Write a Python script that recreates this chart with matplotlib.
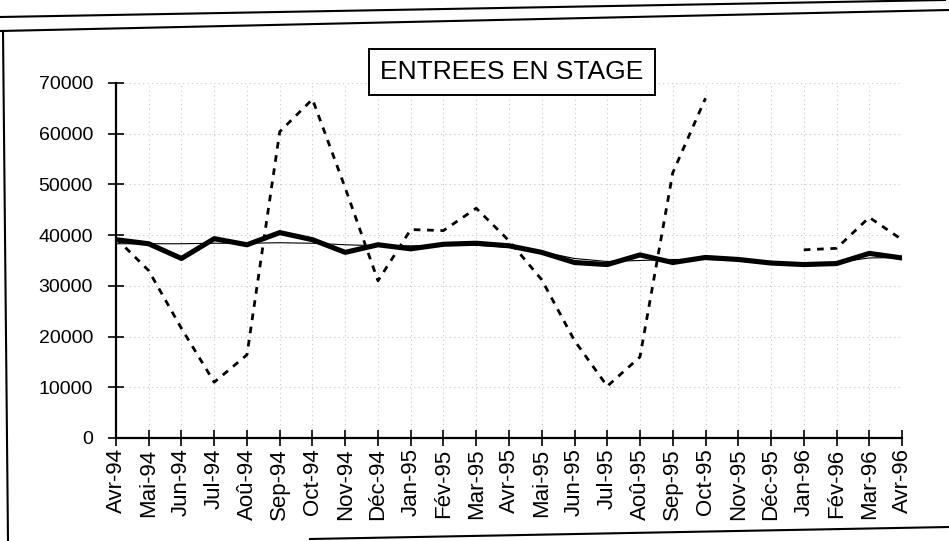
import matplotlib
matplotlib.use("Agg")
import matplotlib.pyplot as plt
import numpy as np
from matplotlib.lines import Line2D

plt.rcParams['font.family'] = ['Liberation Sans', 'DejaVu Sans']

mois = ["Avr-94", "Mai-94", "Jun-94", "Jul-94", "Aoû-94", "Sep-94", "Oct-94",
        "Nov-94", "Déc-94", "Jan-95", "Fév-95", "Mar-95", "Avr-95", "Mai-95",
        "Jun-95", "Jul-95", "Aoû-95", "Sep-95", "Oct-95", "Nov-95", "Déc-95",
        "Jan-96", "Fév-96", "Mar-96", "Avr-96"]

# données brutes (pointillés) - rien en nov-95 et déc-95
brut = [39400, 33000, 21600, 11000, 16400, 60400, 66800, 49300, 31000,
        41100, 40900, 45300, 38900, 31200, 19200, 10200, 16000, 52300,
        67000, np.nan, np.nan, 37100, 37400, 43500, 39100]

# série corrigée (trait épais)
cvs = [39100, 38300, 35400, 39300, 38100, 40500, 39100, 36600, 38100,
       37300, 38200, 38400, 37900, 36600, 34600, 34200, 36100, 34600,
       35600, 35200, 34500, 34200, 34400, 36400, 35500]

# tendance (trait fin)
tendance = [38300, 38300, 38300, 38400, 38400, 38500, 38400, 38100, 37900,
            37900, 38000, 38000, 37600, 36700, 35400, 34800, 35000, 35200,
            35200, 35000, 34600, 34300, 34600, 35500, 35600]

yticks = [0, 10000, 20000, 30000, 40000, 50000, 60000, 70000]

fig = plt.figure(figsize=(9.49, 5.41), dpi=100)
ax = fig.add_axes([0.1222, 0.1904, 0.8283, 0.6562])

x = np.arange(len(mois))
line_b, = ax.plot(x, brut, color="black", lw=2.0)
line_b.set_dashes((2.4, 2.4))
ax.plot(x, cvs, color="black", lw=3.7, solid_joinstyle="round")
ax.plot(x, tendance, color="black", lw=0.8)

ax.set_xlim(0, len(mois) - 1)
ax.set_ylim(0, 70000)
ax.set_xticks(x)
ax.set_xticklabels(mois, rotation=90, fontsize=16)
ax.set_yticks(yticks)
ax.set_yticklabels([str(v) for v in yticks], fontsize=14)
ax.tick_params(axis="both", direction="inout", length=11, width=1.2, colors="black")
ax.tick_params(axis="x", pad=2)
ax.tick_params(axis="y", pad=11)

ax.grid(True, color="#c8c8c8", linestyle=(0, (1, 3)), linewidth=0.8)
ax.set_axisbelow(True)
for s in ["top", "right"]:
    ax.spines[s].set_visible(False)
for s in ["left", "bottom"]:
    ax.spines[s].set_linewidth(1.6)

fig.text(512 / 949, 1 - 72 / 541, "ENTREES EN STAGE", fontsize=19,
         ha="center", va="center",
         bbox=dict(boxstyle="square,pad=0.42", fc="white", ec="black", lw=1.4))

# cadre de la page scannée
W, H = 949.0, 541.0
def trait(x0, y0, x1, y1, lw=1.5):
    fig.add_artist(Line2D([x0 / W, x1 / W], [1 - y0 / H, 1 - y1 / H],
                          color="black", lw=lw, transform=fig.transFigure))

trait(0, 17, 945, 0)
trait(0, 31, 949, 10)
trait(3, 31, 8, 541)
trait(310, 539, 949, 527)

fig.savefig("out.png", dpi=100)
